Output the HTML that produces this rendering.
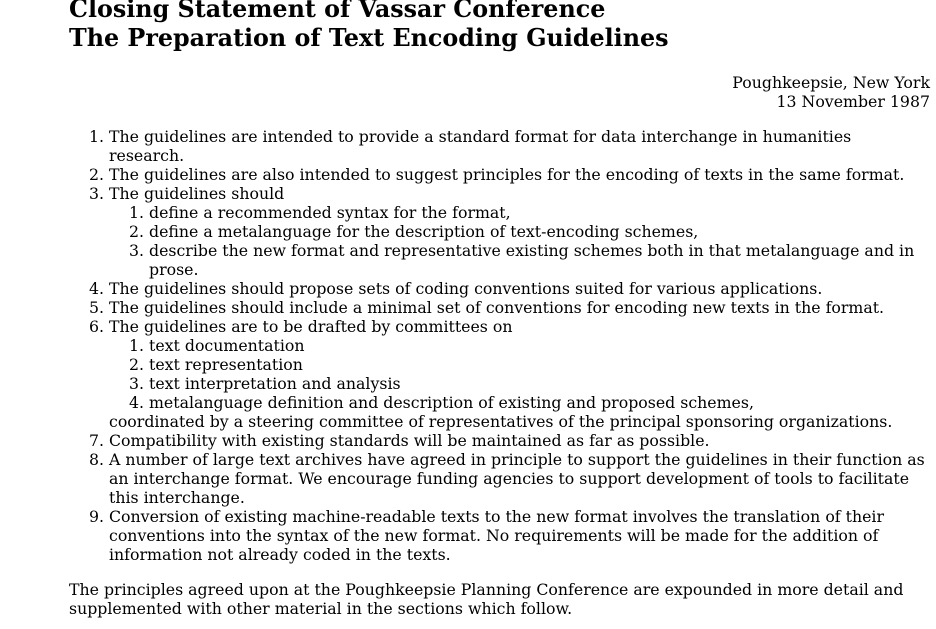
<!DOCTYPE html>
<html><head><meta charset="utf-8">
<style>
html,body{margin:0;padding:0;background:#fff;}
body{width:936px;height:629px;overflow:hidden;font-family:"DejaVu Serif","Liberation Serif",serif;font-size:15.75px;line-height:19px;color:#000;}
#doc{position:absolute;left:69px;top:-1px;width:861px;}
h1{font-size:23.8px;line-height:29px;font-weight:bold;margin:-4px 0 0 0;}
.addr{text-align:right;margin-top:19.5px;}
ol{margin:16px 0 0 0;padding-left:40px;}
ol ol{margin:0;padding-left:40px;}
li{padding-left:0;}
li::marker{font-size:15.75px;}
p{margin:16px 0 0 0;}
</style></head>
<body>
<div id="doc">
<h1>Closing Statement of Vassar Conference<br>The Preparation of Text Encoding Guidelines</h1>
<div class="addr">Poughkeepsie, New York<br>13 November 1987</div>
<ol>
<li>The guidelines are intended to provide a standard format for data interchange in humanities research.</li>
<li>The guidelines are also intended to suggest principles for the encoding of texts in the same format.</li>
<li>The guidelines should
<ol>
<li>define a recommended syntax for the format,</li>
<li>define a metalanguage for the description of text-encoding schemes,</li>
<li>describe the new format and representative existing schemes both in that metalanguage and in prose.</li>
</ol></li>
<li>The guidelines should propose sets of coding conventions suited for various applications.</li>
<li>The guidelines should include a minimal set of conventions for encoding new texts in the format.</li>
<li>The guidelines are to be drafted by committees on
<ol>
<li>text documentation</li>
<li>text representation</li>
<li>text interpretation and analysis</li>
<li>metalanguage definition and description of existing and proposed schemes,</li>
</ol>coordinated by a steering committee of representatives of the principal sponsoring organizations.</li>
<li>Compatibility with existing standards will be maintained as far as possible.</li>
<li>A number of large text archives have agreed in principle to support the guidelines in their function as an interchange format. We encourage funding agencies to support development of tools to facilitate this interchange.</li>
<li>Conversion of existing machine-readable texts to the new format involves the translation of their conventions into the syntax of the new format. No requirements will be made for the addition of information not already coded in the texts.</li>
</ol>
<p>The principles agreed upon at the Poughkeepsie Planning Conference are expounded in more detail and supplemented with other material in the sections which follow.</p>
</div>
</body></html>
